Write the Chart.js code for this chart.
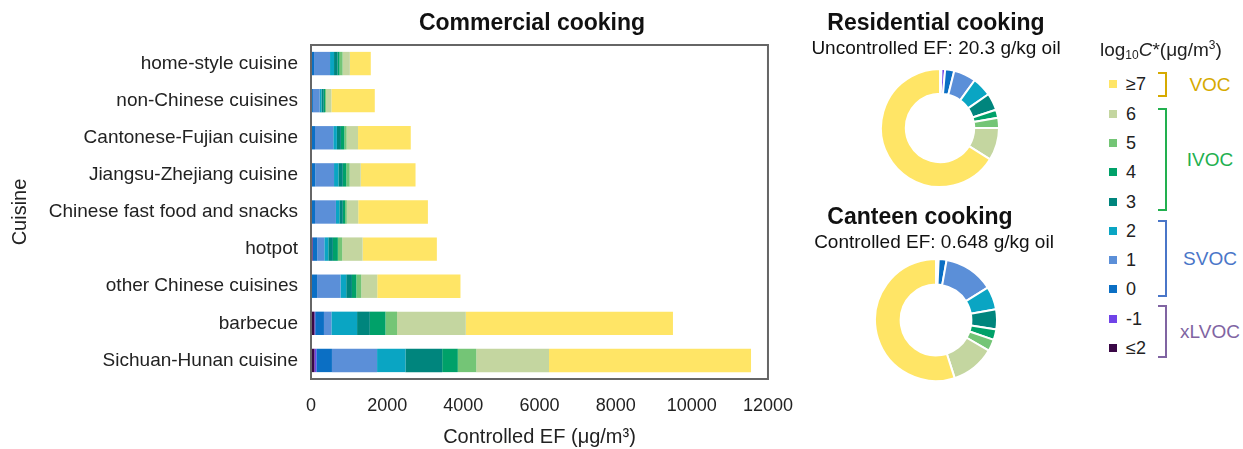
<!DOCTYPE html>
<html lang="en">
<head>
    <meta charset="UTF-8">
    <title>Cooking emissions by volatility</title>
    <script src="https://cdn.jsdelivr.net/npm/chart.js"></script>
    <style>
        body {
            margin: 0;
            background: #fff;
            font-family: "Liberation Sans", Arial, sans-serif;
            color: #222;
        }
        #wrap {
            position: relative;
            width: 1243px;
            height: 449px;
            overflow: hidden;
        }
        #wrap canvas, .abs {
            position: absolute;
        }
        .ttl {
            position: absolute;
            text-align: center;
            font-weight: bold;
            font-size: 23px;
            line-height: 26px;
            color: #111;
        }
        .sub {
            position: absolute;
            text-align: center;
            font-size: 19px;
            line-height: 22px;
            color: #111;
        }
        .item {
            position: absolute;
            left: 1109px;
            font-size: 18px;
            line-height: 20px;
            height: 20px;
        }
        .item span {
            display: inline-block;
            width: 8px;
            height: 8px;
            margin-right: 9px;
            vertical-align: 2px;
        }
        .brk {
            position: absolute;
            left: 1158px;
            width: 7px;
            border: 2px solid;
            border-left: none;
        }
        .grp {
            position: absolute;
            left: 1170px;
            width: 80px;
            text-align: center;
            font-size: 19px;
            line-height: 22px;
        }
    </style>
</head>
<body>
<div id="wrap">
    <canvas id="barChart" width="809" height="449" style="left:0;top:0"></canvas>
    <div class="ttl" style="left:332px;width:400px;top:9px">Commercial cooking</div>

    <div class="ttl" style="left:800px;width:272px;top:9px">Residential cooking</div>
    <div class="sub" style="left:800px;width:272px;top:37px">Uncontrolled EF: 20.3 g/kg oil</div>
    <canvas id="resChart" width="120" height="120" style="left:880px;top:68px"></canvas>

    <div class="ttl" style="left:784px;width:272px;top:203px">Canteen cooking</div>
    <div class="sub" style="left:798px;width:272px;top:231px">Controlled EF: 0.648 g/kg oil</div>
    <canvas id="canChart" width="124" height="124" style="left:874px;top:258px"></canvas>

    <div id="legend"></div>
</div>

<script>
    // volatility bins, log10 C* (ug/m3)
    const bins = ['≤2', '-1', '0', '1', '2', '3', '4', '5', '6', '≥7'];
    const binColors = ['#3a0846', '#7043e8', '#0b6fc4', '#5b8fd8', '#0aa5c3',
                       '#00857d', '#00a169', '#74c576', '#c4d6a0', '#ffe566'];

    const cuisines = ['home-style cuisine', 'non-Chinese cuisines', 'Cantonese-Fujian cuisine',
                      'Jiangsu-Zhejiang cuisine', 'Chinese fast food and snacks', 'hotpot',
                      'other Chinese cuisines', 'barbecue', 'Sichuan-Hunan cuisine'];

    // controlled EF (ug/m3) per bin, same order as cuisines
    const efLe2  = [10, 5, 10, 10, 10, 40, 10, 90, 90];
    const efM1   = [10, 5, 10, 10, 10, 10, 10, 20, 50];
    const ef0    = [60, 40, 85, 95, 85, 115, 140, 230, 410];
    const ef1    = [420, 180, 480, 490, 550, 185, 615, 195, 1185];
    const ef2    = [105, 45, 95, 115, 90, 105, 150, 675, 745];
    const ef3    = [95, 60, 105, 115, 90, 120, 150, 335, 965];
    const ef4    = [50, 35, 90, 90, 60, 130, 115, 410, 410];
    const ef5    = [80, 25, 60, 90, 45, 115, 130, 305, 485];
    const ef6    = [190, 140, 300, 290, 300, 535, 420, 1805, 1910];
    const efGe7  = [550, 1140, 1385, 1440, 1830, 1950, 2185, 5440, 5305];
    const binSeries = [efLe2, efM1, ef0, ef1, ef2, ef3, ef4, ef5, ef6, efGe7];

    const xTicks = [0, 2000, 4000, 6000, 8000, 10000, 12000];

    // donut shares (%) per bin
    const residentialShare = [0.4, 1.0, 2.5, 6.1, 5.3, 4.7, 2.2, 2.8, 8.9, 66.1];
    const canteenShare     = [0.3, 0.4, 2.1, 13.3, 6.1, 5.3, 2.8, 3.1, 11.7, 55.0];

    const groups = [
        { name: 'VOC',   color: '#d6aa00', top: 72,  height: 25 },
        { name: 'IVOC',  color: '#22b04f', top: 108, height: 103 },
        { name: 'SVOC',  color: '#4a76c8', top: 220, height: 77 },
        { name: 'xLVOC', color: '#8064a2', top: 305, height: 53 }
    ];

    const font = 'Liberation Sans, Arial, sans-serif';
    Chart.defaults.font.family = font;
    Chart.defaults.color = '#222';

    // box around the plot area
    const frame = {
        id: 'frame',
        afterDraw(c) {
            const a = c.chartArea, ctx = c.ctx;
            ctx.save();
            ctx.strokeStyle = '#666';
            ctx.lineWidth = 2;
            ctx.strokeRect(a.left, a.top, a.right - a.left, a.bottom - a.top);
            ctx.restore();
        }
    };

    new Chart(document.getElementById('barChart'), {
        type: 'bar',
        data: {
            labels: cuisines,
            datasets: bins.map((b, i) => ({
                label: b,
                data: binSeries[i],
                backgroundColor: binColors[i],
                borderWidth: 0,
                barPercentage: 0.63,
                categoryPercentage: 1
            }))
        },
        options: {
            indexAxis: 'y',
            responsive: false,
            animation: false,
            layout: { padding: { top: 45, right: 41, bottom: 0, left: 0 } },
            plugins: { legend: { display: false }, tooltip: { enabled: false } },
            scales: {
                x: {
                    stacked: true,
                    min: 0,
                    max: 12000,
                    afterBuildTicks: s => { s.ticks = xTicks.map(v => ({ value: v })); },
                    afterFit: s => { s.height = 70; },
                    grid: { display: false, drawTicks: false },
                    border: { display: false },
                    ticks: {
                        font: { size: 18 }, padding: 16, color: '#222', maxRotation: 0,
                        callback: v => String(v)
                    },
                    title: {
                        display: true,
                        text: 'Controlled EF (μg/m³)',
                        font: { size: 20 },
                        color: '#222',
                        padding: { top: 0, bottom: 0 }
                    }
                },
                y: {
                    stacked: true,
                    afterFit: s => { s.width = 311; },
                    grid: { display: false, drawTicks: false },
                    border: { display: false },
                    ticks: { font: { size: 19 }, padding: 13, color: '#222' },
                    title: {
                        display: true,
                        text: 'Cuisine',
                        font: { size: 20 },
                        color: '#222',
                        padding: { top: 8, bottom: 0 }
                    }
                }
            }
        },
        plugins: [frame]
    });

    function donut(id, shares) {
        new Chart(document.getElementById(id), {
            type: 'doughnut',
            data: {
                labels: bins,
                datasets: [{
                    data: shares,
                    backgroundColor: binColors,
                    borderColor: '#fff',
                    borderWidth: 2
                }]
            },
            options: {
                responsive: false,
                animation: false,
                cutout: '58%',
                plugins: { legend: { display: false }, tooltip: { enabled: false } }
            }
        });
    }
    donut('resChart', residentialShare);
    donut('canChart', canteenShare);

    // legend with volatility class brackets
    const legend = document.getElementById('legend');
    let html = '<div class="abs" style="left:1100px;top:33px;font-size:19px;line-height:24px">' +
        'log<sub style="font-size:12px;vertical-align:-3px">10</sub><i>C</i>*(μg/m<sup style="font-size:12px;vertical-align:7px">3</sup>)</div>';
    const order = bins.slice().reverse();
    const colorsRev = binColors.slice().reverse();
    order.forEach((b, i) => {
        const y = 84.3 + i * 29.3;
        html += '<div class="item" style="top:' + (y - 10) + 'px"><span style="background:' +
            colorsRev[i] + '"></span>' + b + '</div>';
    });
    groups.forEach(g => {
        html += '<div class="brk" style="top:' + g.top + 'px;height:' + (g.height - 4) +
            'px;border-color:' + g.color + '"></div>';
        html += '<div class="grp" style="top:' + (g.top + g.height / 2 - 11) + 'px;color:' +
            g.color + '">' + g.name + '</div>';
    });
    legend.innerHTML = html;
</script>
</body>
</html>
